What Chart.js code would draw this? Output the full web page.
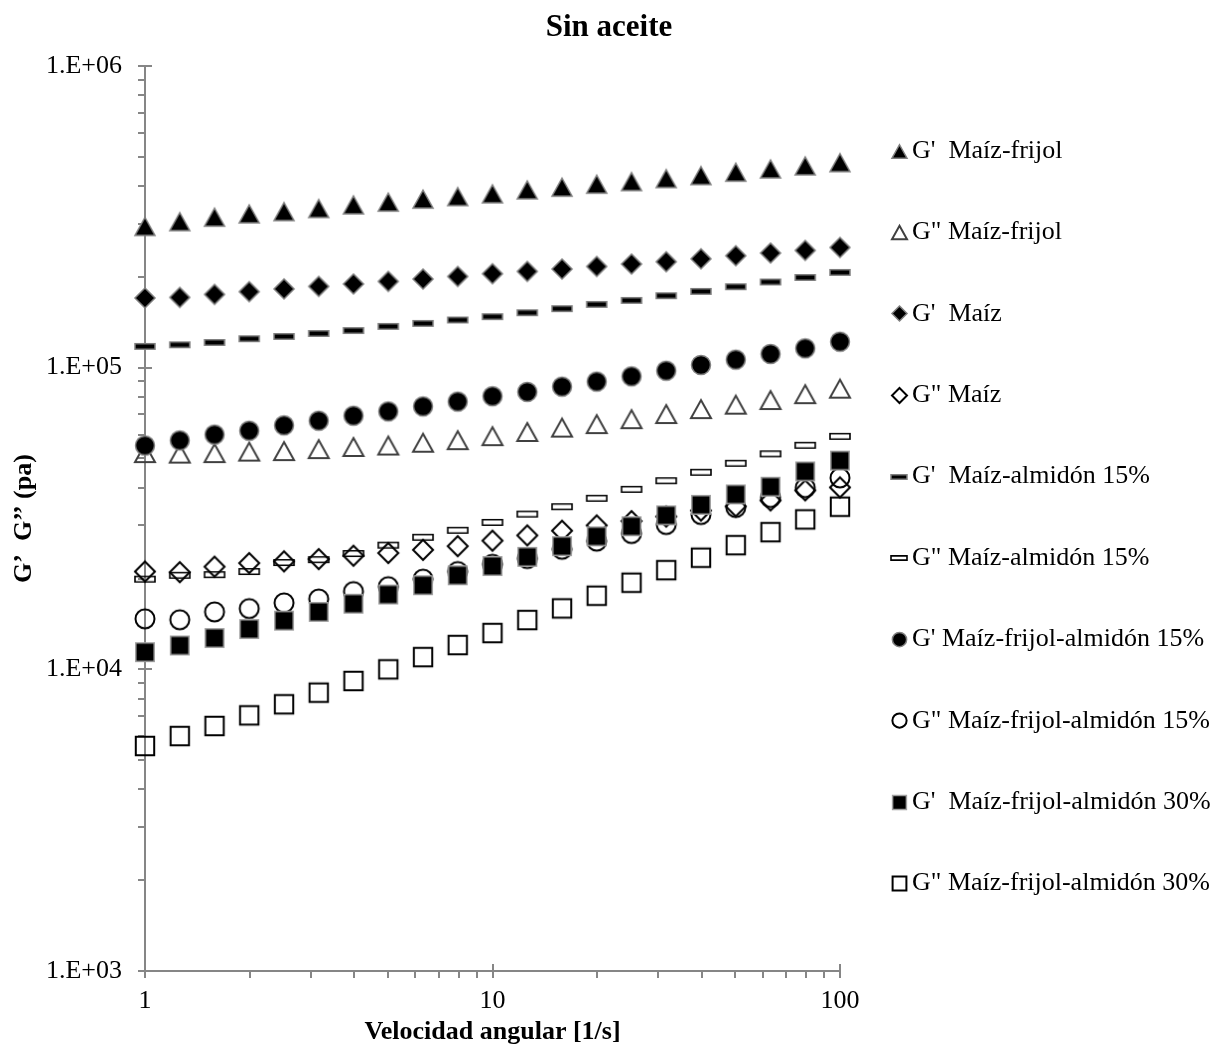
<!DOCTYPE html>
<html>
<head>
<meta charset="utf-8">
<script src="https://cdn.jsdelivr.net/npm/chart.js@4.4.1/dist/chart.umd.min.js"></script>
<style>
  body { margin: 0; background: #fff; }
  canvas { display: block; }
</style>
</head>
<body>
<canvas id="chart" width="1218" height="1055"></canvas>
<script>
// angular velocity (1/s), 10 points per decade
var velocidad = [1, 1.259, 1.585, 1.995, 2.512, 3.162, 3.981, 5.012, 6.310, 7.943, 10,
                 12.59, 15.85, 19.95, 25.12, 31.62, 39.81, 50.12, 63.10, 79.43, 100];

// moduli (Pa)
var gp_maiz_frijol = [294000, 305000, 315500, 323600, 329300, 337000, 346500, 353800, 362000, 369300, 377000,
                      388600, 396700, 405900, 414000, 423600, 433400, 444700, 456000, 466600, 478500];
var gpp_maiz_frijol = [52100, 51900, 52100, 52700, 52900, 53700, 54600, 55200, 56400, 57500, 59300,
                       61200, 63300, 65000, 67500, 70200, 72900, 75400, 78100, 81700, 85200];
var gp_maiz = [170200, 171000, 174900, 178600, 182400, 185900, 189400, 193200, 196700, 200600, 204800,
               208500, 212300, 216500, 220600, 224500, 229600, 235000, 239900, 244700, 250300];
var gpp_maiz = [21100, 21000, 21900, 22500, 22800, 23200, 23800, 24300, 24900, 25600, 26700,
                27800, 28800, 30000, 31000, 32100, 33600, 34700, 36300, 39200, 40100];
var gp_maiz_alm15 = [117600, 119100, 121200, 124700, 126900, 129800, 132800, 137000, 140200, 143900, 147600,
                     152100, 156900, 162100, 167100, 173200, 179000, 185500, 192300, 199100, 206900];
var gpp_maiz_alm15 = [19900, 20500, 20600, 21100, 22600, 23100, 24200, 25800, 27400, 28900, 30700,
                      32700, 34600, 36900, 39500, 42200, 45000, 48200, 51800, 55300, 59200];
var gp_mfa15 = [55200, 57400, 60000, 61800, 64400, 66700, 69300, 71600, 74400, 77200, 80400,
                83100, 86500, 89900, 93600, 97700, 102100, 106300, 111000, 115900, 121900];
var gpp_mfa15 = [14700, 14600, 15500, 15900, 16600, 17100, 18100, 18800, 19900, 21100, 22300,
                 23300, 25000, 26600, 28200, 30200, 32600, 34400, 37100, 40000, 43100];
var gp_mfa30 = [11400, 12000, 12700, 13600, 14500, 15500, 16500, 17700, 19000, 20500, 22000,
                23600, 25600, 27600, 29800, 32400, 35100, 38000, 40300, 45300, 49200];
var gpp_mfa30 = [5570, 6010, 6490, 7040, 7660, 8370, 9150, 10000, 10980, 12040, 13190,
                 14570, 15920, 17540, 19370, 21320, 23440, 25800, 28490, 31400, 34600];

var seriesNames = [
  "G'  Maíz-frijol", 'G" Maíz-frijol',
  "G'  Maíz", 'G" Maíz',
  "G'  Maíz-almidón 15%", 'G" Maíz-almidón 15%',
  "G' Maíz-frijol-almidón 15%", 'G" Maíz-frijol-almidón 15%',
  "G'  Maíz-frijol-almidón 30%", 'G" Maíz-frijol-almidón 30%'
];
var seriesValues = [gp_maiz_frijol, gpp_maiz_frijol, gp_maiz, gpp_maiz, gp_maiz_alm15, gpp_maiz_alm15,
                    gp_mfa15, gpp_mfa15, gp_mfa30, gpp_mfa30];

var xTickLabels = ['1', '10', '100'];
var yTickLabels = ['1.E+03', '1.E+04', '1.E+05', '1.E+06'];

var markerKinds = ['triangle', 'triangle', 'diamond', 'diamond', 'dash', 'dash', 'circle', 'circle', 'square', 'square'];
var SERIF = "'Liberation Serif', 'Times New Roman', serif";
var AXIS_GRAY = '#868686';

// draw one Excel-like marker on a small canvas, used as pointStyle
function makeMarker(kind, filled, s) {
    var pad = 3;
    var w = s + pad * 2;
    var h = (kind === 'dash' ? Math.round(s * 0.27) : s) + pad * 2;
    var c = document.createElement('canvas');
    c.width = w; c.height = h;
    var g = c.getContext('2d');
    var cx = w / 2, cy = h / 2, r = s / 2;
    g.beginPath();
    if (kind === 'triangle') {
        g.moveTo(cx, cy - r * 0.9);
        g.lineTo(cx + r, cy + r * 0.9);
        g.lineTo(cx - r, cy + r * 0.9);
        g.closePath();
    } else if (kind === 'diamond') {
        g.moveTo(cx, cy - r); g.lineTo(cx + r, cy); g.lineTo(cx, cy + r); g.lineTo(cx - r, cy);
        g.closePath();
    } else if (kind === 'circle') {
        g.arc(cx, cy, r * 0.95, 0, Math.PI * 2);
    } else if (kind === 'square') {
        g.rect(cx - r * 0.92, cy - r * 0.92, s * 0.92, s * 0.92);
    } else {
        g.rect(cx - r, cy - s * 0.135, s, s * 0.27);
    }
    if (filled) {
        g.fillStyle = '#000';
        g.fill();
        g.strokeStyle = kind === 'square' ? '#a0a0a0' : '#808080';
        g.lineWidth = 1.5;
        g.stroke();
    } else {
        g.strokeStyle = kind === 'triangle' ? '#404040' : '#000';
        g.lineWidth = kind === 'dash' ? 1.6 : 2;
        g.stroke();
    }
    return c;
}

function isDecade(v) {
    var l = Math.log10(v);
    return Math.abs(l - Math.round(l)) < 1e-9;
}
// log scale also makes 15, 150... ticks, Excel has none there
function isWholeStep(v) {
    var m = v / Math.pow(10, Math.floor(Math.log10(v) + 1e-9));
    return Math.abs(m - Math.round(m)) < 1e-6;
}
function tickColor(ctx) {
    return ctx.tick && isWholeStep(ctx.tick.value) ? AXIS_GRAY : 'rgba(0,0,0,0)';
}

var legendMarkers = [];
var datasets = seriesValues.map(function(vals, i) {
    var filled = (i % 2 === 0);
    legendMarkers.push(makeMarker(markerKinds[i], filled, markerKinds[i] === 'dash' ? 16 : 15));
    return {
        label: seriesNames[i],
        data: vals.map(function(v, j) { return {x: velocidad[j], y: v}; }),
        pointStyle: makeMarker(markerKinds[i], filled, 20),
        pointRadius: 10,
        showLine: false,
        clip: false,
        order: seriesValues.length - i   // later series on top, like Excel
    };
});

// side legend + inner half of the major ticks
var decoPlugin = {
    id: 'deco',
    afterDraw: function(chart) {
        var ctx = chart.ctx, a = chart.chartArea;
        var xs = chart.scales.x, ys = chart.scales.y;
        ctx.save();
        ctx.strokeStyle = AXIS_GRAY;
        ctx.lineWidth = 2;
        xTickLabels.forEach(function(t) {
            var px = Math.round(xs.getPixelForValue(Number(t)));
            ctx.beginPath(); ctx.moveTo(px, a.bottom); ctx.lineTo(px, a.bottom - 7); ctx.stroke();
        });
        yTickLabels.forEach(function(t) {
            var py = Math.round(ys.getPixelForValue(Number(t)));
            ctx.beginPath(); ctx.moveTo(a.left, py); ctx.lineTo(a.left + 7, py); ctx.stroke();
        });

        var lx = a.right + 59, ly = 151, step = 81.4;
        ctx.font = '26px ' + SERIF;
        ctx.fillStyle = '#000';
        ctx.textBaseline = 'middle';
        ctx.textAlign = 'left';
        chart.data.datasets.forEach(function(ds, i) {
            var y = ly + i * step;
            var img = legendMarkers[i];
            ctx.drawImage(img, Math.round(lx - img.width / 2), Math.round(y - img.height / 2));
            ctx.fillText(ds.label, lx + 13, y);
        });
        ctx.restore();
    }
};

new Chart(document.getElementById('chart'), {
    type: 'scatter',
    data: { datasets: datasets },
    plugins: [decoPlugin],
    options: {
        responsive: false,
        animation: false,
        devicePixelRatio: 1,
        layout: { padding: 0 },
        plugins: {
            legend: { display: false },
            tooltip: { enabled: false },
            title: {
                display: true,
                text: 'Sin aceite',
                color: '#000',
                font: { family: SERIF, size: 31, weight: 'bold' },
                padding: { top: 9, bottom: 19.8 }
            }
        },
        scales: {
            x: {
                type: 'logarithmic',
                position: 'bottom',
                min: 1,
                max: 100,
                border: { color: AXIS_GRAY, width: 2 },
                grid: { drawOnChartArea: false, tickLength: 7, lineWidth: 2, color: AXIS_GRAY, tickColor: tickColor },
                ticks: {
                    autoSkip: false, maxRotation: 0, padding: 8, color: '#000',
                    font: { family: SERIF, size: 26 },
                    callback: function(v) {
                        var k = xTickLabels.indexOf(String(v));
                        return (isDecade(v) && k >= 0) ? xTickLabels[k] : '';
                    }
                },
                title: {
                    display: true, text: 'Velocidad angular [1/s]', color: '#000',
                    font: { family: SERIF, size: 26, weight: 'bold' },
                    padding: { top: 0, bottom: 7 }
                },
                afterFit: function(scale) { scale.height = 84; }
            },
            y: {
                type: 'logarithmic',
                position: 'left',
                min: 1000,
                max: 1000000,
                border: { color: AXIS_GRAY, width: 2 },
                grid: { drawOnChartArea: false, tickLength: 7, lineWidth: 2, color: AXIS_GRAY, tickColor: tickColor },
                ticks: {
                    autoSkip: false, padding: 16, color: '#000',
                    font: { family: SERIF, size: 26 },
                    callback: function(v) {
                        return isDecade(v) ? yTickLabels[Math.round(Math.log10(v)) - 3] : '';
                    }
                },
                title: {
                    display: true, text: 'G’  G’’ (pa)', color: '#000',
                    font: { family: SERIF, size: 26, weight: 'bold' },
                    padding: { top: 9, bottom: 0 }
                },
                afterFit: function(scale) { scale.width = 145; }
            },
            // empty axis that only reserves the room of the legend
            yLegend: {
                type: 'linear',
                position: 'right',
                ticks: { display: false },
                grid: { display: false },
                border: { display: false },
                afterFit: function(scale) { scale.width = 378; }
            }
        }
    }
});
</script>
</body>
</html>
